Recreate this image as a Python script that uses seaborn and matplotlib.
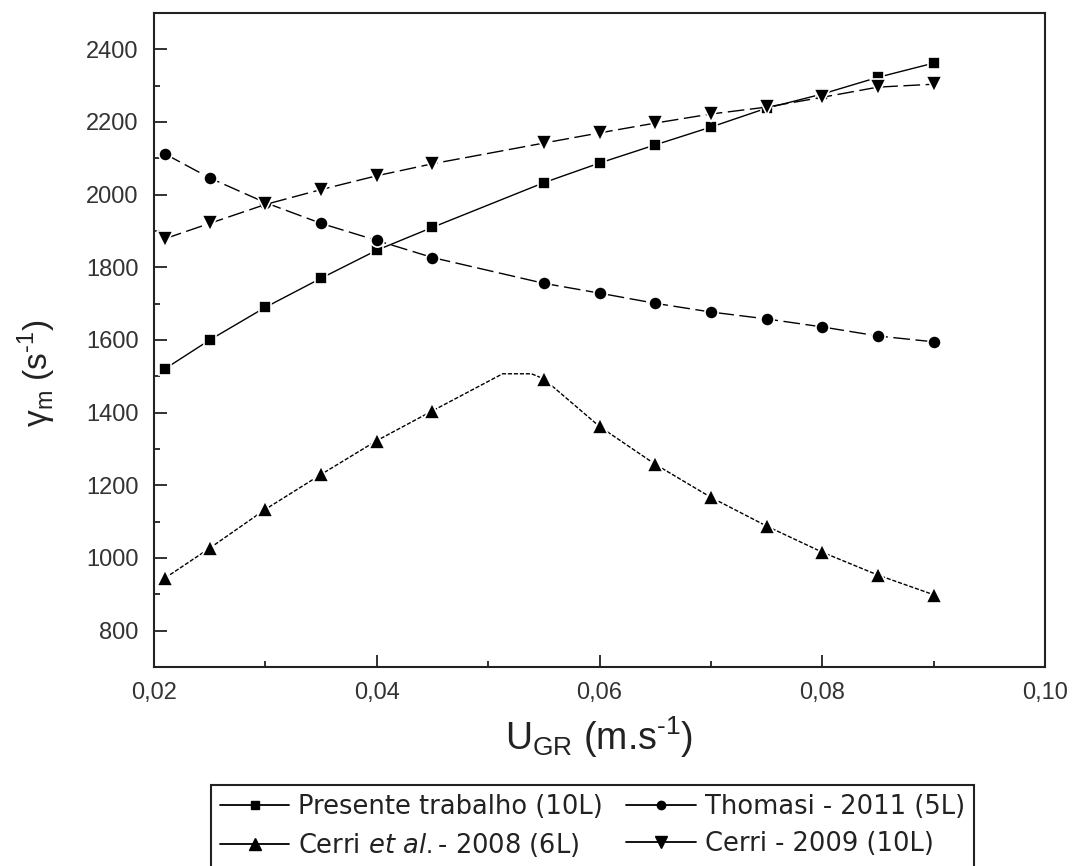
import matplotlib
matplotlib.use("Agg")
import matplotlib.pyplot as plt
from matplotlib.lines import Line2D
from matplotlib.ticker import MultipleLocator, FuncFormatter
import pandas as pd
import seaborn as sns

# Superficial gas velocity (m/s) and mean shear rate (1/s)
u_gr = [0.021, 0.025, 0.030, 0.035, 0.040, 0.045, 0.055, 0.060,
        0.065, 0.070, 0.075, 0.080, 0.085, 0.090]
presente = [1521, 1600, 1690, 1770, 1847, 1910, 2033, 2087,
            2137, 2186, 2238, 2277, 2323, 2362]
thomasi = [2112, 2046, 1978, 1921, 1874, 1827, 1756, 1729,
           1701, 1677, 1658, 1636, 1611, 1595]
cerri_2008 = [945, 1027, 1134, 1230, 1323, 1405, 1493, 1362,
              1258, 1167, 1088, 1016, 953, 899]
cerri_2009 = [1879, 1921, 1973, 2014, 2052, 2085, 2142, 2170,
              2197, 2222, 2241, 2268, 2296, 2304]
# the Cerri et al. curve levels off at its maximum between 0.045 and 0.055
cerri_2008_peak_x = [0.0513, 0.0539]
cerri_2008_peak_y = [1507, 1507]

labels = ["Presente trabalho (10L)", "Thomasi - 2011 (5L)",
          r"Cerri $\mathit{et\ al.}$- 2008 (6L)", "Cerri - 2009 (10L)"]

sns.set_theme(style="ticks")
plt.rcParams["font.family"] = ["Liberation Sans", "DejaVu Sans"]
plt.rcParams["mathtext.fontset"] = "custom"
plt.rcParams["mathtext.rm"] = "Liberation Sans"
plt.rcParams["mathtext.it"] = "DejaVu Sans:italic"
plt.rcParams["mathtext.bf"] = "Liberation Sans:bold"

fig = plt.figure(figsize=(10.77, 8.66), dpi=100)
ax = fig.add_axes([154 / 1077, 1 - 667 / 866, (1045 - 154) / 1077, (667 - 13) / 866])

ink = "black"
lw = 1.0
mk = dict(markeredgecolor="white", markeredgewidth=1.2)

# Presente trabalho
sns.lineplot(x=u_gr, y=presente, ax=ax, color=ink, lw=lw, ls="-",
             marker="s", markersize=9, **mk)
# Thomasi
l = sns.lineplot(x=u_gr, y=thomasi, ax=ax, color=ink, lw=lw,
                 marker="o", markersize=9.5, **mk).lines[-1]
l.set_dashes((12, 4))
# Cerri et al. 2008: curve through the plateau, markers on measured points
df08 = pd.DataFrame({"u": u_gr + cerri_2008_peak_x, "g": cerri_2008 + cerri_2008_peak_y})
l = sns.lineplot(data=df08, x="u", y="g", ax=ax, color=ink, lw=lw).lines[-1]
l.set_dashes((3, 1.3))
sns.lineplot(x=u_gr, y=cerri_2008, ax=ax, color=ink, ls="none",
             marker="^", markersize=12, **mk)
# Cerri 2009
l = sns.lineplot(x=u_gr, y=cerri_2009, ax=ax, color=ink, lw=lw,
                 marker="v", markersize=12, **mk).lines[-1]
l.set_dashes((12, 4))

ax.set_xlim(0.02, 0.10)
ax.set_ylim(700, 2500)
ax.xaxis.set_major_locator(MultipleLocator(0.02))
ax.xaxis.set_minor_locator(MultipleLocator(0.01))
ax.yaxis.set_minor_locator(MultipleLocator(100))
ax.set_yticks([800, 1000, 1200, 1400, 1600, 1800, 2000, 2200, 2400])
ax.xaxis.set_major_formatter(FuncFormatter(lambda v, p: f"{v:.2f}".replace(".", ",")))
ax.yaxis.set_major_formatter(FuncFormatter(lambda v, p: f"{v:.0f}"))

for s in ax.spines.values():
    s.set_visible(True)
    s.set_linewidth(1.5)
    s.set_color("#222222")
ax.tick_params(which="both", direction="in", top=False, right=False,
               color="#222222", width=1.3, labelsize=17, labelcolor="#333333")
ax.tick_params(which="major", length=9, pad=11)
ax.tick_params(which="minor", length=4)

ax.set_xlabel(r"U$_{\mathrm{GR}}$ (m.s$^{\text{-1}}$)", fontsize=27, color="#222222")
ax.xaxis.set_label_coords(0.5, -0.073)
ax.set_ylabel(r"γ$_{\mathrm{m}}$ (s$^{\text{-1}}$)", fontsize=24, color="#222222")
ax.yaxis.set_label_coords(-0.108, 0.45)
ax.grid(False)

handles = [
    Line2D([], [], color=ink, lw=1.3, ls="-", marker="s", markersize=6),
    Line2D([], [], color=ink, lw=1.3, ls="-", marker="^", markersize=8),
    Line2D([], [], color=ink, lw=1.3, ls="-", marker="o", markersize=6),
    Line2D([], [], color=ink, lw=1.3, ls="-", marker="v", markersize=8),
]
leg_labels = [labels[0], labels[2], labels[1], labels[3]]
leg = fig.legend(handles, leg_labels, ncol=2, loc="upper left",
                 bbox_to_anchor=(211 / 1077, 1 - 785 / 866),
                 prop={"family": "DejaVu Sans", "size": 18.5},
                 frameon=True, fancybox=False, framealpha=1,
                 edgecolor="#222222", handlelength=2.7, handletextpad=0.35,
                 columnspacing=0.9, borderpad=0.35, labelspacing=0.42,
                 borderaxespad=0)
leg.get_frame().set_linewidth(1.5)
for t in leg.get_texts():
    t.set_color("#222222")

fig.savefig("out.png", dpi=100, facecolor="white")
